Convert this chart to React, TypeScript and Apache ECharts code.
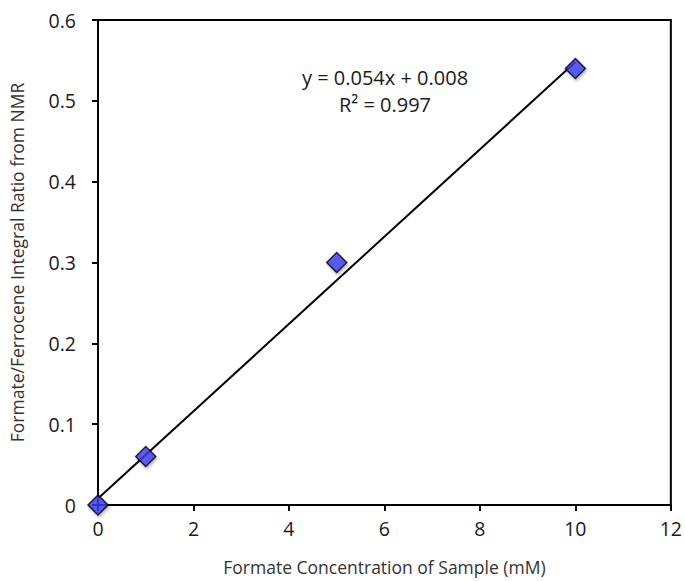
import React, { useEffect, useRef } from "react";
import * as echarts from "echarts";

const concentrations = [0, 1, 5, 10];
const ratios = [0, 0.06, 0.3, 0.54];
const trendX = [0, 10];
const trendY = [0.008, 0.548];
const xTicks = [0, 2, 4, 6, 8, 10, 12];
const yTicks = [0, 0.1, 0.2, 0.3, 0.4, 0.5, 0.6];
const equationText = "y = 0.054x + 0.008";
const r2Text = "R² = 0.997";

const FONT = "'Open Sans', 'Liberation Sans', sans-serif";

export default function App() {
  const ref = useRef<HTMLDivElement>(null);
  useEffect(() => {
    if (!ref.current) return;
    const chart = echarts.init(ref.current, null, { renderer: "svg" });
    const axisCommon = {
      axisLine: { show: true, lineStyle: { color: "#000", width: 2 } },
      axisTick: { show: true, inside: false, length: 6, lineStyle: { color: "#000", width: 2 } },
      splitLine: { show: false },
      axisLabel: { color: "#1a1a1a", fontSize: 19.5, fontFamily: FONT },
      nameTextStyle: { color: "#333", fontSize: 17.5, fontFamily: FONT },
    };
    chart.setOption({
      animation: false,
      backgroundColor: "#fff",
      grid: { left: 96, right: 13, top: 20, bottom: 75, show: true, borderColor: "#000", borderWidth: 2 },
      xAxis: {
        type: "value",
        min: 0,
        max: 12,
        interval: 2,
        name: "Formate Concentration of Sample (mM)",
        nameLocation: "middle",
        nameGap: 53,
        ...axisCommon,
        axisLabel: { ...axisCommon.axisLabel, margin: 13, formatter: (v: number) => (xTicks.includes(v) ? String(v) : "") },
      },
      yAxis: {
        type: "value",
        min: 0,
        max: 0.6,
        interval: 0.1,
        name: "Formate/Ferrocene Integral Ratio from NMR",
        nameLocation: "middle",
        nameGap: 72,
        ...axisCommon,
        axisLabel: {
          ...axisCommon.axisLabel,
          margin: 22,
          formatter: (v: number) => {
            const t = yTicks.find((y) => Math.abs(y - v) < 1e-9);
            return t === undefined ? "" : t === 0 ? "0" : t.toFixed(1);
          },
        },
      },
      series: [
        {
          type: "line",
          data: trendX.map((x, i) => [x, trendY[i]]),
          showSymbol: false,
          symbol: "none",
          lineStyle: { color: "#000", width: 2 },
          z: 2,
        },
        {
          type: "scatter",
          data: concentrations.map((x, i) => [x, ratios[i]]),
          symbol: "diamond",
          symbolSize: [20, 20],
          itemStyle: {
            color: "#4040f5",
            borderColor: "#000",
            borderWidth: 1.5,
            shadowColor: "rgba(0,0,0,0.35)",
            shadowBlur: 3,
            shadowOffsetX: 1,
            shadowOffsetY: 2,
          },
          z: 3,
        },
      ],
      graphic: [
        {
          type: "text",
          x: 385,
          y: 64,
          style: {
            text: equationText + "\n" + r2Text,
            font: `20px ${FONT}`,
            fill: "#1a1a1a",
            align: "center",
            verticalAlign: "top",
            lineHeight: 27,
          },
        },
      ],
    });
    return () => chart.dispose();
  }, []);
  return <div ref={ref} style={{ position: "absolute", left: 0, top: 0, width: 685, height: 581 }} />;
}
